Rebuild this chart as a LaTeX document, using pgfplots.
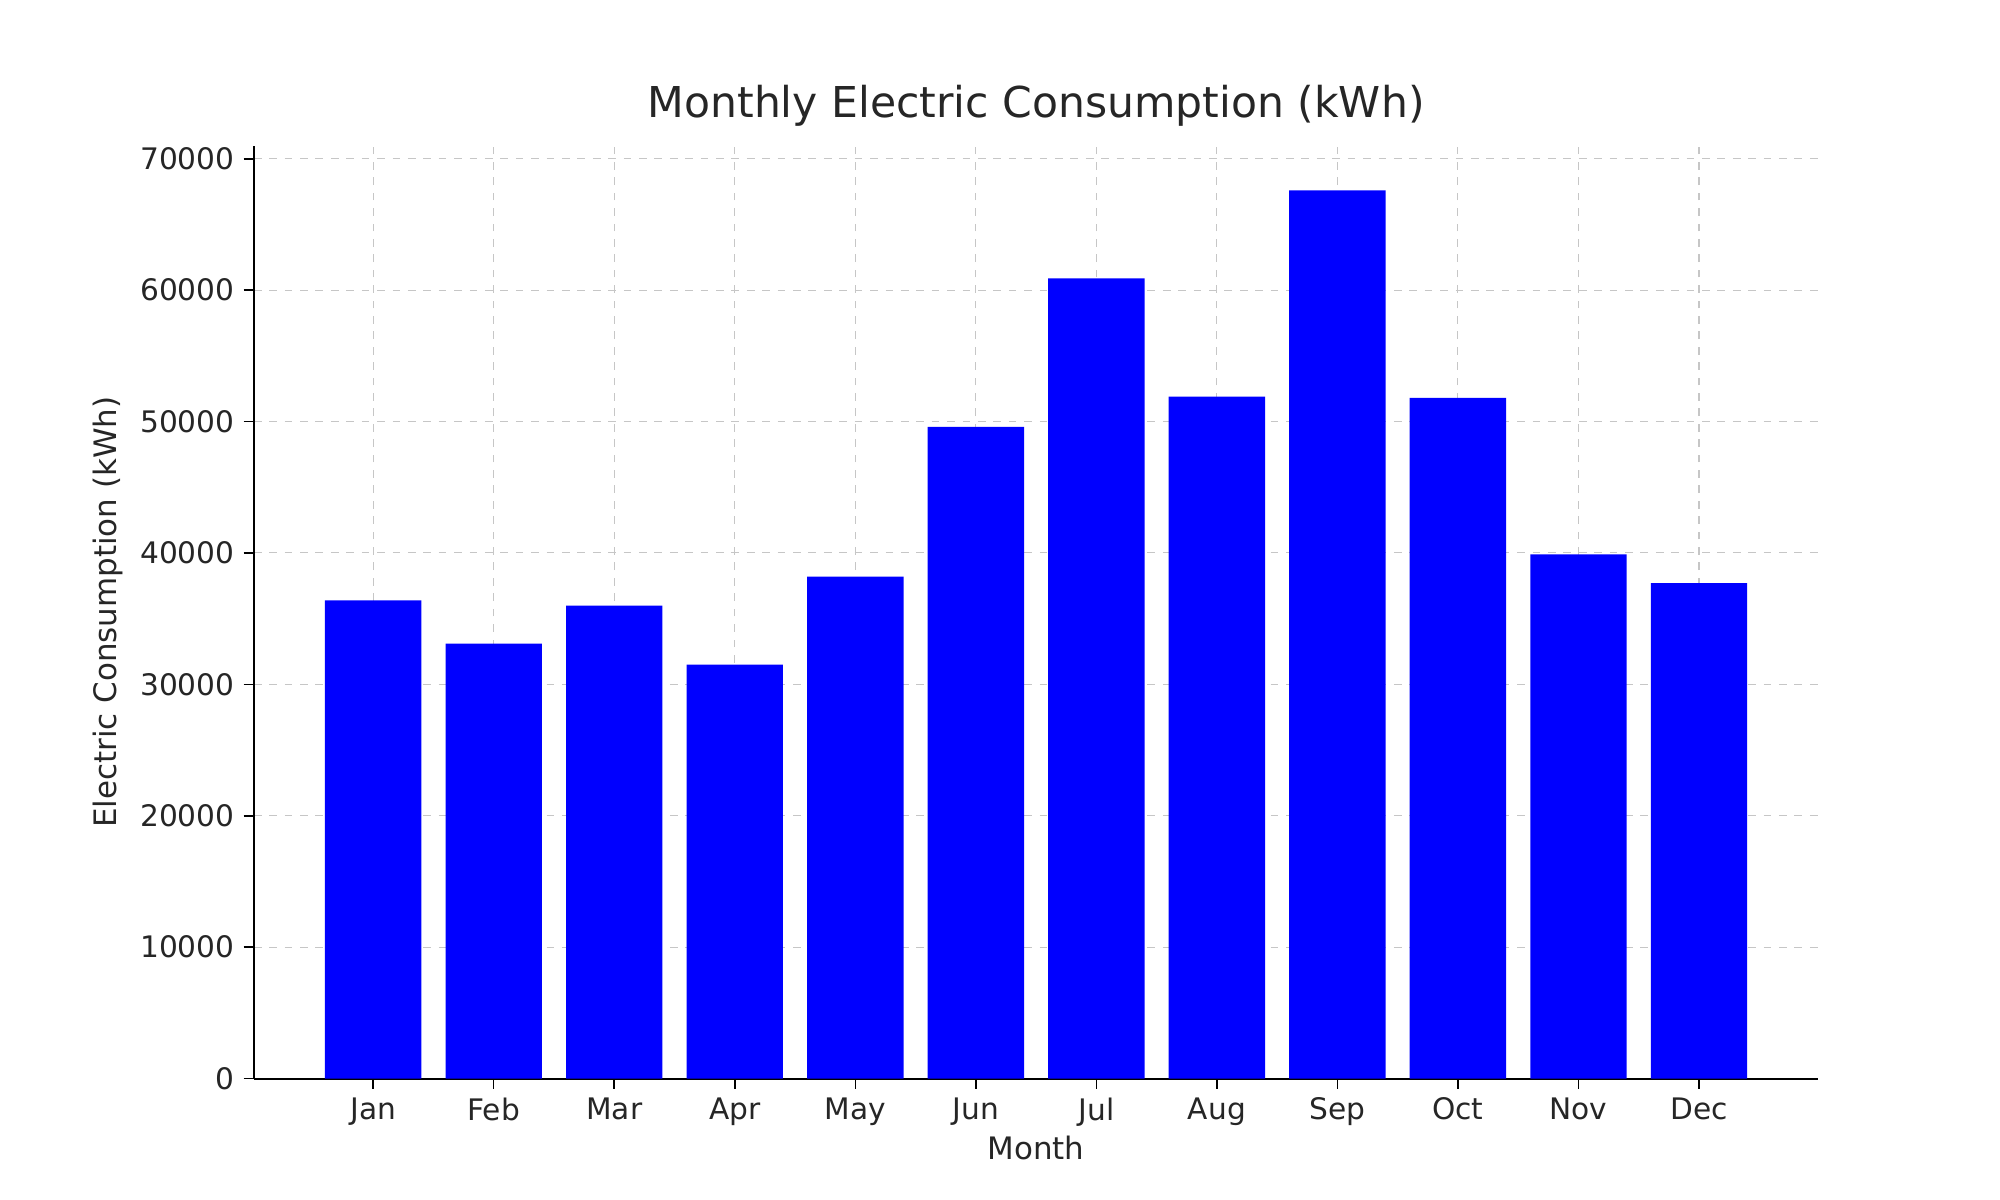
\documentclass[border=0pt]{standalone}
\usepackage{pgfplots}
\pgfplotsset{compat=1.18}
\usepackage{fontspec}
\setmainfont{DejaVu Sans}
\definecolor{txt}{HTML}{262626}
\begin{document}
\begin{tikzpicture}
\path[use as bounding box] (-98.5bp,-47bp) rectangle (677.5bp,418.5bp);
\begin{axis}[
  at={(0,0)}, anchor=south west,
  scale only axis, width=607bp, height=362bp,
  xmin=-0.99, xmax=11.99, ymin=0, ymax=71000,
  axis lines*=left, axis line style={black, line width=0.8pt},
  xtick={0,...,11},
  xticklabels={Jan,Feb,Mar,Apr,May,Jun,Jul,Aug,Sep,Oct,Nov,Dec},
  ytick={0,10000,...,70000},
  scaled y ticks=false,
  yticklabel style={/pgf/number format/fixed,/pgf/number format/1000 sep={}},
  /pgf/number format/assume math mode=true,
  tick align=outside, tick style={black, line width=0.6pt}, major tick length=4bp,
  grid=major, grid style={dashed, gray!45, line width=0.4pt},
  ticklabel style={font=\fontsize{11.5bp}{13bp}\selectfont, text=txt},
  xlabel={Month}, ylabel={Electric Consumption (kWh)},
  label style={font=\fontsize{12bp}{14bp}\selectfont, text=txt},
  xlabel style={yshift=3bp},
  title={Monthly Electric Consumption (kWh)},
  title style={font=\fontsize{16.5bp}{18bp}\selectfont, text=txt, yshift=-2bp},
  axis on top=false,
]
\addplot[ybar, bar width=0.8, fill=blue, draw=none, bar shift=0pt] coordinates {
(0,36400) (1,33100) (2,36000) (3,31500) (4,38200) (5,49600)
(6,60900) (7,51900) (8,67600) (9,51800) (10,39900) (11,37700)};
\end{axis}
\end{tikzpicture}
\end{document}
